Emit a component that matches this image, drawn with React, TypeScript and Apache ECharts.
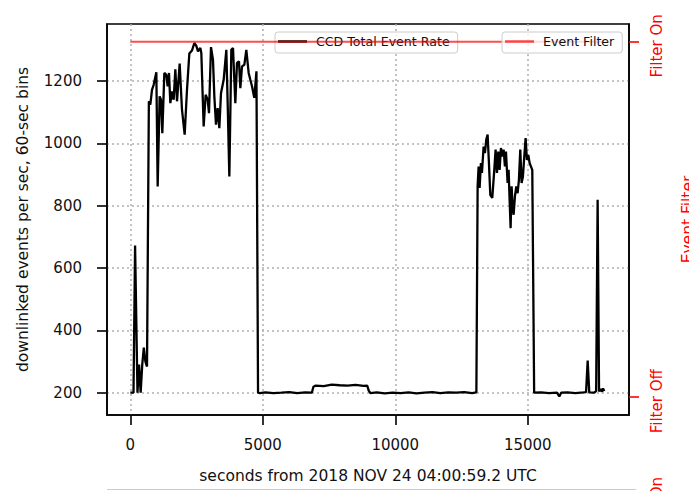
import React, { useEffect, useRef } from "react";
import * as echarts from "echarts";

// CCD total event rate, 60-sec bins (seconds from 2018 NOV 24 04:00:59.2 UTC)
const timeSec = [
  0, 60, 120, 180, 270, 330, 390, 450, 510, 570, 630,
  700, 755, 818, 881, 982, 1032, 1107, 1158, 1208, 1284, 1359, 1409, 1460, 1510,
  1573, 1636, 1699, 1762, 1862, 1950, 2051, 2139, 2227, 2328, 2416, 2491, 2554,
  2642, 2680, 2768, 2843, 2919, 2969, 3045, 3120, 3171, 3233, 3296, 3359, 3422,
  3523, 3623, 3674, 3737, 3812, 3875, 3963, 4026, 4101, 4152, 4215, 4303, 4378,
  4466, 4529, 4592, 4679, 4760, 4820,
  4880, 5100, 5400, 5700, 6000, 6300, 6600, 6850, 6910, 7000, 7300, 7600, 7900,
  8200, 8500, 8800, 8940, 9000, 9060, 9300, 9600, 9900, 10200, 10500, 10800,
  11100, 11400, 11700, 12000, 12300, 12600, 12900, 13060,
  13107, 13144, 13182, 13232, 13270, 13333, 13383, 13434, 13484, 13534, 13585,
  13660, 13736, 13786, 13836, 13887, 13937, 13987, 14037, 14088, 14138, 14176,
  14239, 14277, 14314, 14352, 14390, 14427, 14465, 14515, 14565, 14616, 14666,
  14717, 14767, 14817, 14868, 14918, 14968, 15019, 15069, 15119, 15170, 15196,
  15240, 15500, 15800, 16100, 16190, 16260, 16500, 16800, 17100, 17200, 17260,
  17320, 17500, 17580, 17636, 17690, 17750, 17800, 17840, 17887,
];
const ccdRate = [
  200, 200, 200, 672, 200, 290, 200, 290, 345, 300, 284,
  1135, 1124, 1172, 1188, 1228, 862, 1151, 1140, 1033, 1226, 1220, 1183, 1226, 1129,
  1167, 1140, 1238, 1135, 1256, 1108, 1028, 1172, 1288, 1298, 1322, 1313, 1295,
  1306, 1290, 1054, 1156, 1140, 1097, 1309, 1268, 1151, 1060, 1113, 1049, 1161,
  1204, 1300, 1129, 894, 1300, 1306, 1129, 1258, 1263, 1177, 1247, 1252, 1300,
  1226, 1204, 1183, 1146, 1231, 200,
  199, 201, 199, 200, 202, 199, 201, 200, 219, 223, 221, 226, 224,
  223, 225, 222, 223, 206, 199, 201, 198, 200, 199, 201, 198,
  200, 202, 199, 201, 200, 202, 199, 201,
  862, 926, 857, 937, 905, 990, 969, 1012, 1028, 937, 835,
  825, 915, 980, 905, 974, 915, 985, 958, 980, 926, 974,
  873, 915, 819, 728, 862, 798, 771, 830, 862, 840, 883,
  980, 873, 894, 958, 1017, 947, 963, 937, 926, 915, 915,
  200, 201, 199, 200, 188, 200, 201, 199, 201, 202, 303,
  201, 200, 205, 819, 204, 212, 203, 214, 205,
];

// Event filter state (1 = on)
const filterTime = [0, 17887];
const filterState = [1, 1];

const xTicks = [0, 5000, 10000, 15000];
const yTicks = [200, 400, 600, 800, 1000, 1200];
const filterTicks = [0, 1];
const filterTickLabels = ["Filter Off", "Filter On"];

const FONT = "DejaVu Sans";

export default function App() {
  const ref = useRef<HTMLDivElement>(null);
  useEffect(() => {
    document.body.style.margin = "0";
    const chart = echarts.init(ref.current!, null, { renderer: "svg" });
    const rateData = timeSec.map((t, i) => [t, ccdRate[i]]);
    const filterData = filterTime.map((t, i) => [t, filterState[i]]);
    const legendCommon = {
      orient: "horizontal",
      top: 32,
      padding: [3, 8, 5, 3],
      icon: "rect",
      itemWidth: 29,
      itemHeight: 2.5,
      backgroundColor: "rgba(255,255,255,0.8)",
      borderColor: "#cccccc",
      borderWidth: 1,
      borderRadius: 3,
      textStyle: {
        fontFamily: FONT,
        fontSize: 12.6,
        color: "#111",
        padding: [0, 0, 0, 4],
        lineHeight: 13,
      },
    };
    chart.setOption({
      animation: false,
      textStyle: { fontFamily: FONT },
      grid: {
        left: 107,
        right: 60,
        top: 24,
        bottom: 76,
        show: true,
        containLabel: false,
        outerBoundsMode: "none",
        borderColor: "#000",
        borderWidth: 1.6,
        backgroundColor: "transparent",
      },
      legend: [
        { ...legendCommon, left: 275, z: 1, data: ["CCD Total Event Rate"] },
        { ...legendCommon, left: 502, z: 5, data: ["Event Filter"] },
      ],
      xAxis: {
        type: "value",
        min: -880,
        max: 18820,
        name: "seconds from 2018 NOV 24 04:00:59.2 UTC",
        nameLocation: "middle",
        nameGap: 53,
        nameTextStyle: { fontFamily: FONT, fontSize: 15.5, color: "#111" },
        axisLine: { show: true, onZero: false, lineStyle: { color: "#000", width: 1.6 } },
        axisTick: { show: true, customValues: xTicks, length: 10, lineStyle: { color: "#000", width: 1.6 } },
        axisLabel: {
          customValues: xTicks,
          margin: 22,
          fontSize: 15,
          color: "#111",
          fontFamily: FONT,
          formatter: (v: number) => String(v),
        },
        splitLine: { show: true, lineStyle: { color: "#b0b0b0", type: [2, 3], width: 1.5 } },
      },
      yAxis: [
        {
          type: "value",
          position: "left",
          min: 128.5,
          max: 1383,
          name: "downlinked events per sec, 60-sec bins",
          nameLocation: "middle",
          nameGap: 76,
          nameTextStyle: { fontFamily: FONT, fontSize: 15.5, color: "#111" },
          axisLine: { show: true, onZero: false, lineStyle: { color: "#000", width: 1.6 } },
          axisTick: { show: true, customValues: yTicks, length: 10, lineStyle: { color: "#000", width: 1.6 } },
          axisLabel: {
            customValues: yTicks,
            margin: 25,
            fontSize: 15,
            color: "#111",
            fontFamily: FONT,
            formatter: (v: number) => String(v),
          },
          splitLine: { show: true, lineStyle: { color: "#b0b0b0", type: [2, 3], width: 1.5 } },
        },
        {
          type: "value",
          position: "right",
          min: -0.05,
          max: 1.05,
          name: "Event Filter",
          nameLocation: "middle",
          nameGap: 51,
          nameTextStyle: { fontFamily: FONT, fontSize: 15.5, color: "#ff0000" },
          axisLine: { show: true, onZero: false, lineStyle: { color: "#000", width: 1.6 } },
          axisTick: { show: true, customValues: filterTicks, length: 10, lineStyle: { color: "#ff0000", width: 1.6 } },
          axisLabel: {
            customValues: filterTicks,
            rotate: 90,
            margin: 20,
            fontSize: 15,
            color: "#ff0000",
            fontFamily: FONT,
            padding: [0, 8, 0, 0],
            formatter: (v: number) => filterTickLabels[filterTicks.indexOf(Math.round(v))],
          },
          splitLine: { show: false },
        },
      ],
      series: [
        {
          name: "CCD Total Event Rate",
          type: "line",
          xAxisIndex: 0,
          yAxisIndex: 0,
          data: rateData,
          symbol: "none",
          z: 2,
          lineStyle: { color: "#000", width: 2.3 },
          itemStyle: { color: "#000" },
        },
        {
          name: "Event Filter",
          type: "line",
          xAxisIndex: 0,
          yAxisIndex: 1,
          data: filterData,
          symbol: "none",
          z: 3,
          lineStyle: { color: "rgba(255,0,0,0.7)", width: 2 },
          itemStyle: { color: "rgba(255,0,0,0.7)" },
        },
      ],
      graphic: [
        {
          type: "line",
          silent: true,
          shape: { x1: 107, y1: 489.5, x2: 636, y2: 489.5 },
          style: { stroke: "#cccccc", lineWidth: 1 },
        },
        {
          type: "text",
          silent: true,
          x: 657,
          y: 477,
          rotation: Math.PI / 2,
          style: {
            text: "Filter On",
            fill: "#ff0000",
            fontFamily: FONT,
            fontSize: 15,
            align: "right",
            verticalAlign: "middle",
          },
        },
      ],
    });
    return () => chart.dispose();
  }, []);
  return <div ref={ref} style={{ width: 689, height: 491 }} />;
}
